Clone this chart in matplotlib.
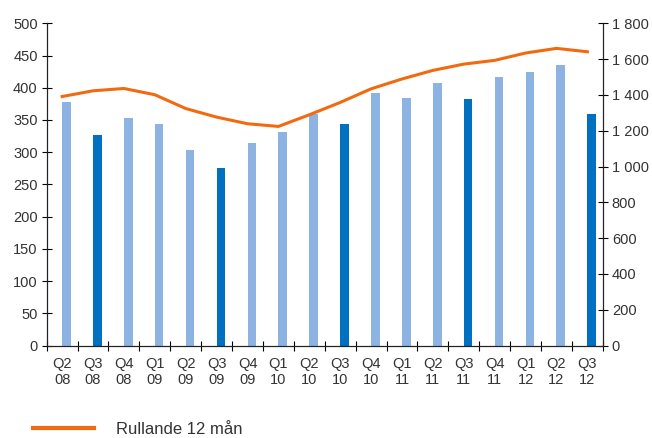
import matplotlib
matplotlib.use("Agg")
import matplotlib.pyplot as plt
from matplotlib.lines import Line2D
import numpy as np

plt.rcParams['font.family'] = ['Liberation Sans', 'DejaVu Sans']

quarters = ["Q2\n08", "Q3\n08", "Q4\n08", "Q1\n09", "Q2\n09", "Q3\n09", "Q4\n09", "Q1\n10", "Q2\n10",
            "Q3\n10", "Q4\n10", "Q1\n11", "Q2\n11", "Q3\n11", "Q4\n11", "Q1\n12", "Q2\n12", "Q3\n12"]
quarter_values = [378, 326, 353, 343, 303, 276, 314, 331, 360,
                  344, 392, 384, 408, 382, 416, 425, 436, 360]
rolling_12m = [1391, 1423, 1436, 1401, 1324, 1276, 1239, 1224, 1289,
               1358, 1434, 1489, 1537, 1572, 1593, 1634, 1660, 1641]
legend_label = "Rullande 12 mån"

light = "#8DB3E2"
dark = "#0070C0"
orange = "#F26A0F"
txt = "#333333"

fig = plt.figure(figsize=(6.52, 4.38), dpi=100)
ax = fig.add_axes([0.0716, 0.211, 0.853, 0.7358])
ax2 = ax.twinx()

n = len(quarters)
x = np.arange(n)
colors = [dark if q.startswith("Q3") else light for q in quarters]
ax.bar(x + 0.14, quarter_values, width=0.28, color=colors, zorder=2)

ax.set_xlim(-0.5, n - 0.5)
ax.set_ylim(0, 500)
ax.set_yticks(np.arange(0, 501, 50))
ax.set_xticks(np.arange(-0.5, n, 1.0))
ax.set_xticklabels([])
ax.set_xticks(x, minor=True)
ax.set_xticklabels(quarters, minor=True, fontsize=10.5, color=txt, linespacing=1.2)
ax.tick_params(axis='x', which='minor', length=0, pad=8)
ax.tick_params(axis='x', which='major', direction='inout', length=7, width=0.8)
ax.tick_params(axis='y', direction='inout', length=7, width=0.8, labelsize=10.5, labelcolor=txt, pad=3)

ax2.plot(x, rolling_12m, color=orange, lw=2.2, zorder=3)
ax2.set_ylim(0, 1800)
ax2.set_yticks(np.arange(0, 1801, 200))
ax2.set_yticklabels([f"{v:,}".replace(",", " ") for v in range(0, 1801, 200)])
ax2.tick_params(axis='y', direction='inout', length=7, width=0.8, labelsize=10.5, labelcolor=txt, pad=3)

for a in (ax, ax2):
    a.spines['top'].set_visible(False)
    for s in ('left', 'right', 'bottom'):
        a.spines[s].set_color('#222222')
        a.spines[s].set_linewidth(0.8)

handle = Line2D([0], [0], color=orange, lw=3)
fig.legend([handle], [legend_label], loc='lower left', bbox_to_anchor=(0.027, -0.032),
           frameon=False, fontsize=12, handlelength=3.7, handletextpad=1.3,
           labelcolor=txt)

fig.savefig("out.png", dpi=100)
